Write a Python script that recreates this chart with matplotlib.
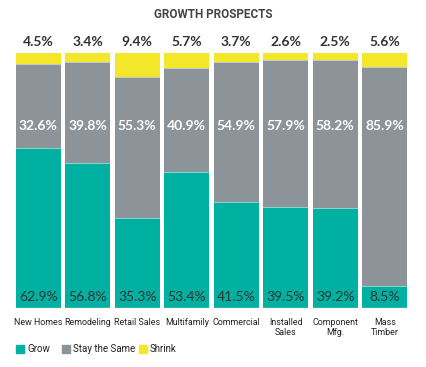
import matplotlib.pyplot as plt
import numpy as np

categories = ["New Homes", "Remodeling", "Retail Sales", "Multifamily", "Commercial",
              "Installed\nSales", "Component\nMfg.", "Mass\nTimber"]
grow = [62.9, 56.8, 35.3, 53.4, 41.5, 39.5, 39.2, 8.5]
same = [32.6, 39.8, 55.3, 40.9, 54.9, 57.9, 58.2, 85.9]
shrink = [4.5, 3.4, 9.4, 5.7, 3.7, 2.6, 2.5, 5.6]

TEAL = "#00b0a0"
GREY = "#8c9399"
YELLOW = "#f2e829"
DARK = "#333333"
NARROW = "Roboto"

fig = plt.figure(figsize=(4.26, 3.67), dpi=100)
ax = fig.add_axes([13.5 / 426, 1 - 308 / 367, 396 / 426, 255 / 367])

x = np.arange(len(categories))
w = 0.9
grow_a = np.array(grow)
same_a = np.array(same)
shrink_a = np.array(shrink)
ax.bar(x, grow_a, w, color=TEAL, label="Grow", linewidth=0)
ax.bar(x, same_a, w, bottom=grow_a, color=GREY, label="Stay the Same", linewidth=0)
ax.bar(x, shrink_a, w, bottom=grow_a + same_a, color=YELLOW, label="Shrink", linewidth=0)
# thin white separators between segments
for xi, g, s in zip(x, grow_a, same_a):
    ax.plot([xi - w / 2, xi + w / 2], [g, g], color="white", lw=0.6, alpha=0.6)
    ax.plot([xi - w / 2, xi + w / 2], [g + s, g + s], color="white", lw=0.6, alpha=0.6)

pct_font = dict(family="Lato", fontsize=10, fontweight="bold")
for xi, g, s, k in zip(x, grow, same, shrink):
    ax.text(xi, 104.5, f"{k}%", ha="center", va="center", color=DARK, **pct_font)
    ax.text(xi, 71.5, f"{s}%", ha="center", va="center", color="white", **pct_font)
    ax.text(xi, 4.3, f"{g}%", ha="center", va="center", color=DARK,
            family="Lato", fontsize=10)

ax.axhline(0, color="#dddddd", lw=1)
ax.set_xlim(-0.5, 7.5)
ax.set_ylim(0, 100)
ax.set_xticks(x)
ax.set_xticklabels(categories, family=NARROW, fontsize=6.4,
                   color="#222222", linespacing=1.15, va="top")
ax.tick_params(axis="x", length=0, pad=7.5)
ax.set_yticks([])
for sp in ax.spines.values():
    sp.set_visible(False)

fig.text(0.5, 1 - 14 / 367, "GROWTH PROSPECTS", ha="center", va="center",
         family=NARROW, fontweight="bold", fontsize=8.5, color="#444444")

# legend
leg_y = 1 - 349 / 367
items = [("Grow", TEAL, 16), ("Stay the Same", GREY, 62), ("Shrink", YELLOW, 139)]
for label, col, px in items:
    fig.patches.append(plt.Rectangle((px / 426, leg_y - 4 / 367), 8 / 426, 8 / 367,
                                     transform=fig.transFigure, color=col))
    fig.text((px + 11) / 426, leg_y, label, ha="left", va="center",
             family=NARROW, fontsize=7, color="#222222")

fig.savefig("out.png", dpi=100)
